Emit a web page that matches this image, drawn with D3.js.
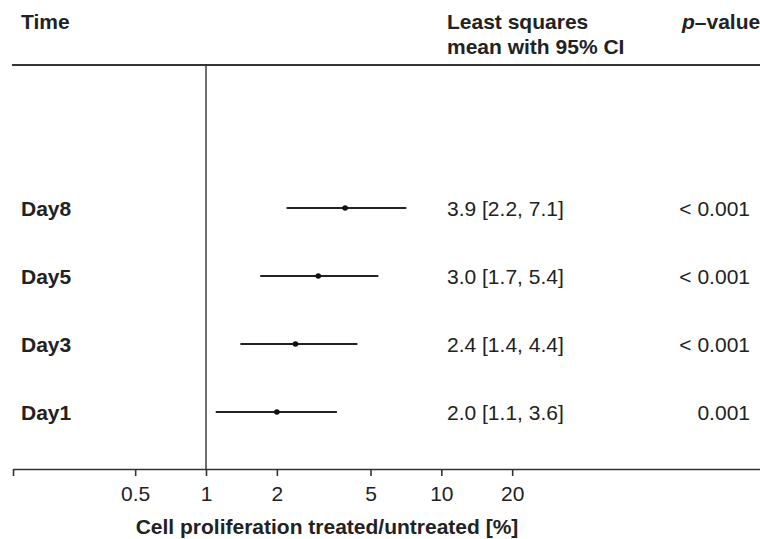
<!DOCTYPE html>
<html>
<head>
<meta charset="utf-8">
<script src="https://cdn.jsdelivr.net/npm/d3@7"></script>
<style>
  html, body { margin: 0; padding: 0; background: #fff; }
  svg { display: block; font-family: "Liberation Sans", Arial, Helvetica, sans-serif; }
  text { fill: #222; }
</style>
</head>
<body>
<svg id="chart" width="760" height="539"></svg>
<script>
// ── Data ─────────────────────────────────────────────────────────────────────
const TIMES    = ["Day8", "Day5", "Day3", "Day1"];
const LSMEAN   = [3.9, 3.0, 2.4, 2.0];
const CI_LOW   = [2.2, 1.7, 1.4, 1.1];
const CI_HIGH  = [7.1, 5.4, 4.4, 3.6];
const P_LABELS = ["< 0.001", "< 0.001", "< 0.001", "0.001"];
const TICKS    = [0.5, 1, 2, 5, 10, 20];

const W = 760, H = 539;
const FONT = 21;
const TOP_RULE = 65, AXIS_Y = 469;

const svg = d3.select("#chart");

// ── Scales ───────────────────────────────────────────────────────────────────
const x = d3.scaleLog().domain([0.1513, 226]).range([13, 760]);
const y = d3.scalePoint().domain(TIMES).range([208, 412]);

const rows = TIMES.map((t, i) => ({
  time: t, est: LSMEAN[i], lo: CI_LOW[i], hi: CI_HIGH[i], p: P_LABELS[i],
}));

// ── Header ───────────────────────────────────────────────────────────────────
const header = svg.append("g").attr("font-weight", "bold").attr("font-size", FONT);
header.append("text").attr("x", 21).attr("y", 29).text("Time");
header.append("text").attr("x", 447).attr("y", 29).text("Least squares");
header.append("text").attr("x", 447).attr("y", 54).text("mean with 95% CI");
const pHead = header.append("text").attr("x", 682).attr("y", 29);
pHead.append("tspan").attr("font-style", "italic").text("p");
pHead.append("tspan").text("–value");

svg.append("line")
  .attr("x1", 12).attr("x2", W)
  .attr("y1", TOP_RULE).attr("y2", TOP_RULE)
  .attr("stroke", "#333").attr("stroke-width", 1.8);

// reference line at 1
svg.append("line")
  .attr("x1", x(1)).attr("x2", x(1))
  .attr("y1", TOP_RULE).attr("y2", AXIS_Y)
  .attr("stroke", "#333").attr("stroke-width", 1.4);

// ── Rows ─────────────────────────────────────────────────────────────────────
const row = svg.append("g").selectAll("g").data(rows).enter().append("g");

row.append("text")
  .attr("x", 21).attr("y", d => y(d.time) + 7.5)
  .attr("font-size", FONT).attr("font-weight", "bold")
  .text(d => d.time);

row.append("line")
  .attr("x1", d => x(d.lo)).attr("x2", d => x(d.hi))
  .attr("y1", d => y(d.time)).attr("y2", d => y(d.time))
  .attr("stroke", "#222").attr("stroke-width", 2);

row.append("circle")
  .attr("cx", d => x(d.est)).attr("cy", d => y(d.time))
  .attr("r", 2.8).attr("fill", "#111");

row.append("text")
  .attr("x", 447).attr("y", d => y(d.time) + 7.5)
  .attr("font-size", FONT)
  .text(d => `${d.est.toFixed(1)} [${d.lo.toFixed(1)}, ${d.hi.toFixed(1)}]`);

row.append("text")
  .attr("x", 750).attr("y", d => y(d.time) + 7.5)
  .attr("text-anchor", "end")
  .attr("font-size", FONT)
  .text(d => d.p);

// ── X axis ───────────────────────────────────────────────────────────────────
const axis = d3.axisBottom(x)
  .tickValues([x.domain()[0], ...TICKS])
  .tickFormat((d, i) => i === 0 ? "" : String(d))
  .tickSize(7)
  .tickSizeOuter(0)
  .tickPadding(10);

const gx = svg.append("g")
  .attr("transform", `translate(0,${AXIS_Y})`)
  .call(axis);

gx.select(".domain").attr("stroke", "#333").attr("stroke-width", 1.6);
gx.selectAll(".tick line").attr("stroke", "#333").attr("stroke-width", 1.6);
gx.selectAll(".tick text")
  .attr("font-size", FONT)
  .attr("font-family", "Liberation Sans, Arial, sans-serif")
  .attr("fill", "#222");

svg.append("text")
  .attr("x", 327).attr("y", 534)
  .attr("text-anchor", "middle")
  .attr("font-size", FONT).attr("font-weight", "bold")
  .text("Cell proliferation treated/untreated [%]");
</script>
</body>
</html>
